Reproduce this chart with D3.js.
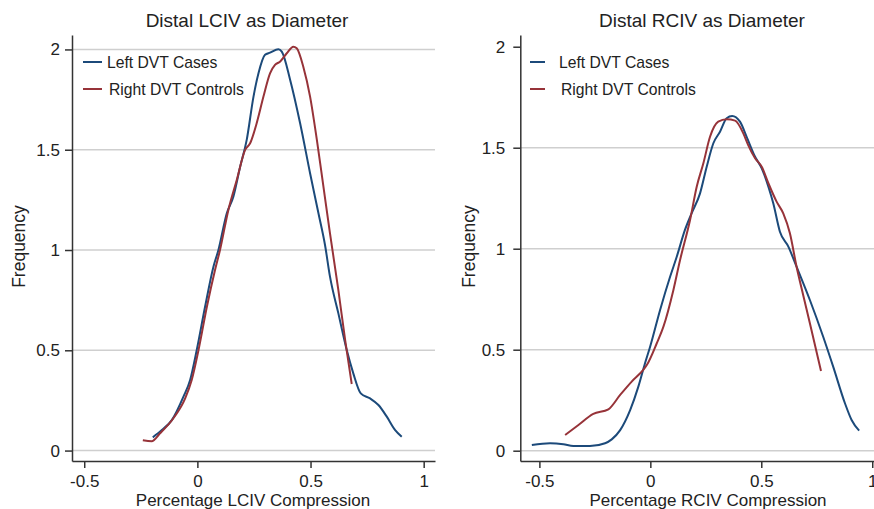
<!DOCTYPE html>
<html>
<head>
    <meta charset="UTF-8">
    <title>Distal CIV compression</title>
    <script src="https://cdn.jsdelivr.net/npm/d3@7"></script>
    <style>
        body { margin: 0; background: #fff; }
        svg text { font-family: "Liberation Sans", Arial, sans-serif; fill: #222; }
    </style>
</head>
<body>
<svg id="chart" width="874" height="509"></svg>
<script>
    // density curves: [compression, frequency]
    var lcivCases = [[-0.197,0.066],[-0.157,0.102],[-0.113,0.152],[-0.062,0.268],[-0.032,0.352],[-0.003,0.50],
        [0.034,0.717],[0.071,0.917],[0.093,1.0],[0.130,1.183],[0.159,1.266],[0.189,1.415],[0.218,1.549],
        [0.248,1.765],[0.270,1.881],[0.299,1.973],[0.321,1.984],[0.358,2.001],[0.373,1.989],[0.410,1.848],
        [0.454,1.632],[0.498,1.383],[0.535,1.183],[0.564,1.025],[0.586,0.867],[0.623,0.684],[0.660,0.501],
        [0.689,0.385],[0.722,0.285],[0.763,0.260],[0.800,0.227],[0.837,0.169],[0.874,0.102],[0.903,0.069]];
    var lcivControls = [[-0.241,0.052],[-0.202,0.047],[-0.165,0.086],[-0.106,0.161],[-0.054,0.260],[-0.025,0.352],
        [0.005,0.501],[0.042,0.717],[0.078,0.900],[0.100,1.0],[0.137,1.20],[0.174,1.349],[0.211,1.499],
        [0.233,1.532],[0.262,1.632],[0.292,1.765],[0.321,1.881],[0.343,1.923],[0.365,1.939],[0.395,1.981],
        [0.424,2.014],[0.439,2.006],[0.468,1.914],[0.498,1.765],[0.528,1.549],[0.557,1.316],[0.586,1.083],
        [0.623,0.80],[0.653,0.551],[0.682,0.332]];
    var rcivCases = [[-0.534,0.028],[-0.452,0.037],[-0.392,0.032],[-0.347,0.023],[-0.272,0.023],[-0.204,0.037],
        [-0.174,0.056],[-0.136,0.102],[-0.091,0.201],[-0.054,0.317],[-0.024,0.433],[-0.001,0.515],[0.044,0.697],
        [0.089,0.861],[0.119,0.960],[0.156,1.093],[0.186,1.175],[0.224,1.274],[0.254,1.406],[0.284,1.522],
        [0.314,1.579],[0.344,1.646],[0.369,1.657],[0.404,1.629],[0.434,1.554],[0.472,1.455],[0.502,1.398],
        [0.532,1.307],[0.554,1.225],[0.584,1.084],[0.622,1.010],[0.659,0.911],[0.719,0.746],[0.779,0.564],
        [0.824,0.416],[0.877,0.235],[0.907,0.152],[0.941,0.099]];
    var rcivControls = [[-0.384,0.078],[-0.324,0.127],[-0.257,0.182],[-0.189,0.205],[-0.136,0.276],[-0.084,0.342],
        [-0.032,0.400],[-0.016,0.424],[0.029,0.532],[0.059,0.614],[0.104,0.796],[0.134,0.944],[0.179,1.142],
        [0.209,1.307],[0.239,1.423],[0.269,1.554],[0.306,1.629],[0.344,1.641],[0.382,1.634],[0.419,1.571],
        [0.441,1.513],[0.472,1.448],[0.502,1.406],[0.532,1.324],[0.569,1.233],[0.599,1.175],[0.629,1.076],
        [0.659,0.911],[0.689,0.77],[0.719,0.631],[0.769,0.395]];

    var xTicks = [-0.5, 0, 0.5, 1];
    var yTicks = [0, 0.5, 1, 1.5, 2];
    var seriesNames = ['Left DVT Cases', 'Right DVT Controls'];
    var colors = ['#1c4a7a', '#973339'];

    var svg = d3.select('#chart');

    var panels = [
        {title: 'Distal LCIV as Diameter', xTitle: 'Percentage LCIV Compression', data: [lcivCases, lcivControls],
            xDom: [-0.554, 1.05], xRange: [72, 435], yDom: [-0.052, 2.072], gridTop: true,
            cx: 247, yTitleX: 25, labelPad: 5, legX: 83, legLen: 19, legText: 24},
        {title: 'Distal RCIV as Diameter', xTitle: 'Percentage RCIV Compression', data: [rcivCases, rcivControls],
            xDom: [-0.586, 1.035], xRange: [520.3, 880], yDom: [-0.051, 2.058], gridTop: false,
            cx: 702, yTitleX: 475, labelPad: 8, legX: 530, legLen: 15, legText: 29}
    ];

    panels.forEach(function (p) {
        var g = svg.append('g');
        var x = d3.scaleLinear().domain(p.xDom).range(p.xRange);
        var y = d3.scaleLinear().domain(p.yDom).range([461, 35]);

        // gridlines
        g.selectAll('line.grid')
            .data(yTicks.filter(function (t) { return p.gridTop || t < 2; }))
            .enter().append('line')
            .attr('x1', p.xRange[0]).attr('x2', p.xRange[1])
            .attr('y1', function (d) { return y(d); })
            .attr('y2', function (d) { return y(d); })
            .attr('stroke', '#cfcfcf').attr('stroke-width', 1.5);

        var yAxis = g.append('g')
            .attr('transform', 'translate(' + p.xRange[0] + ',0)')
            .call(d3.axisLeft(y).tickValues(yTicks).tickSize(7).tickSizeOuter(0).tickPadding(p.labelPad)
                .tickFormat(d3.format('')));
        var xAxis = g.append('g')
            .attr('transform', 'translate(0,461)')
            .call(d3.axisBottom(x).tickValues(xTicks).tickSize(7).tickSizeOuter(0).tickPadding(7)
                .tickFormat(function (d) { return String(d); }));
        [yAxis, xAxis].forEach(function (a) {
            a.selectAll('path, line').attr('stroke', '#333').attr('stroke-width', 1.5);
            a.selectAll('text').style('font-size', '17px').attr('fill', '#222');
        });

        var line = d3.line()
            .x(function (d) { return x(d[0]); })
            .y(function (d) { return y(d[1]); })
            .curve(d3.curveMonotoneX);

        p.data.forEach(function (s, i) {
            g.append('path')
                .datum(s)
                .attr('d', line)
                .attr('fill', 'none')
                .attr('stroke', colors[i])
                .attr('stroke-width', 2);
        });

        // legend
        seriesNames.forEach(function (name, i) {
            var ly = 62 + i * 27;
            g.append('line')
                .attr('x1', p.legX).attr('x2', p.legX + p.legLen)
                .attr('y1', ly).attr('y2', ly)
                .attr('stroke', colors[i]).attr('stroke-width', 2);
            g.append('text')
                .attr('x', p.legX + p.legText + i * 2).attr('y', ly + 5.5)
                .style('font-size', '15.7px')
                .text(name);
        });

        g.append('text')
            .attr('x', p.cx).attr('y', 27.3)
            .attr('text-anchor', 'middle')
            .style('font-size', '19px')
            .text(p.title);

        g.append('text')
            .attr('x', p.cx + 6).attr('y', 506)
            .attr('text-anchor', 'middle')
            .style('font-size', '17px')
            .text(p.xTitle);

        g.append('text')
            .attr('transform', 'translate(' + p.yTitleX + ',246.5) rotate(-90)')
            .attr('text-anchor', 'middle')
            .style('font-size', '17.5px')
            .text('Frequency');
    });
</script>
</body>
</html>
